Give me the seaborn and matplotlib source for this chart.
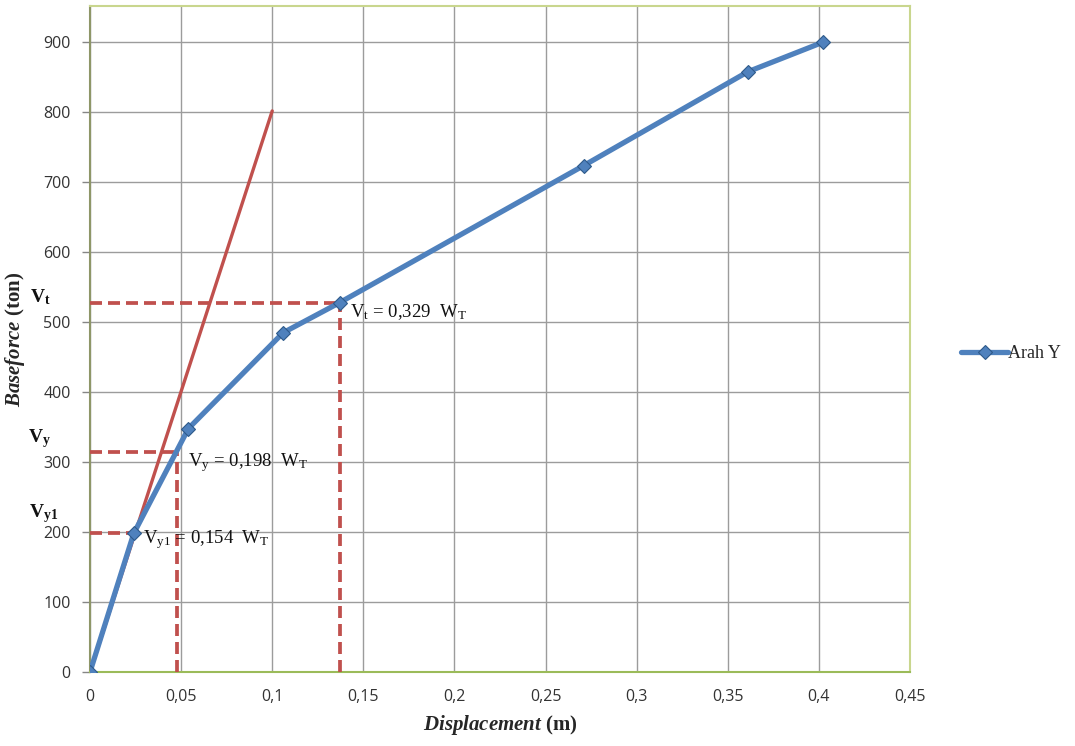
import matplotlib
matplotlib.use("Agg")
import matplotlib.pyplot as plt
import seaborn as sns
import pandas as pd

# ---- data ----
disp = [0.0, 0.024, 0.054, 0.106, 0.137, 0.271, 0.361, 0.402]
base = [0, 198, 348, 485, 528, 724, 858, 900]
series_name = "Arah Y"

elastic_x = [0.0, 0.1]
elastic_y = [0, 802]

vt_point = (0.137, 528)
vy_point = (0.048, 314)
vy1_point = (0.024, 198)

x_ticks = [0, 0.05, 0.1, 0.15, 0.2, 0.25, 0.3, 0.35, 0.4, 0.45]
x_ticklabels = ["0", "0,05", "0,1", "0,15", "0,2", "0,25", "0,3", "0,35", "0,4", "0,45"]
y_ticks = [0, 100, 200, 300, 400, 500, 600, 700, 800, 900]

sns.set_theme(style="white")
plt.rcParams["font.family"] = ["Open Sans", "DejaVu Sans"]
plt.rcParams["mathtext.fontset"] = "custom"
plt.rcParams["mathtext.rm"] = "Liberation Serif"
plt.rcParams["mathtext.it"] = "Liberation Serif:italic"
plt.rcParams["mathtext.bf"] = "Liberation Serif:bold"
plt.rcParams["mathtext.bfit"] = "Liberation Serif:italic:bold"

fig = plt.figure(figsize=(10.75, 7.46), dpi=100)
ax = fig.add_axes([90 / 1075, 74 / 746, 820 / 1075, 666 / 746])

df = pd.DataFrame({"disp": disp, "base": base, "series": series_name})
el = pd.DataFrame({"x": elastic_x, "y": elastic_y})

red = "#C0504D"
blue = "#4F81BD"
serif = "Liberation Serif"

# dashed guide lines
dash = dict(color=red, lw=2.7, ls=(0, (3.2, 1.6)), zorder=3)
ax.plot([0, vt_point[0]], [vt_point[1], vt_point[1]], **dash)
ax.plot([vt_point[0], vt_point[0]], [0, vt_point[1]], **dash)
ax.plot([0, vy_point[0]], [vy_point[1], vy_point[1]], **dash)
ax.plot([vy_point[0], vy_point[0]], [0, vy_point[1]], **dash)
ax.plot([0, vy1_point[0]], [vy1_point[1], vy1_point[1]], **dash)

sns.lineplot(data=el, x="x", y="y", ax=ax, color=red, lw=2.4, zorder=4,
             legend=False)
sns.lineplot(data=df, x="disp", y="base", hue="series", ax=ax,
             palette=[blue], lw=3.8, marker="D", markersize=7,
             markeredgecolor="#2E5A8A", markeredgewidth=0.8, zorder=5,
             sort=False)

ax.set_xlim(0, 0.45)
ax.set_ylim(0, 952)
ax.set_xticks(x_ticks)
ax.set_xticklabels(x_ticklabels)
ax.set_yticks(y_ticks)
ax.tick_params(axis="both", labelsize=11.5, colors="#333333")
ax.tick_params(axis="y", length=6, width=1, color="#868686", direction="out", left=True, pad=8)
ax.tick_params(axis="x", length=0, pad=12)
ax.grid(True, color="#9C9C9C", lw=1)
ax.set_axisbelow(True)

for s in ["top", "right"]:
    ax.spines[s].set_color("#C9D68E")
    ax.spines[s].set_linewidth(1.5)
ax.spines["left"].set_color("#8E9668")
ax.spines["left"].set_linewidth(1.5)
ax.spines["bottom"].set_color("#9BBB59")
ax.spines["bottom"].set_linewidth(1.5)

ax.set_xlabel(r"$\mathbfit{Displacement}$ (m)", fontsize=15, family=serif,
              fontweight="bold", labelpad=6)
ax.set_ylabel(r"$\mathbfit{Baseforce}$ (ton)", fontsize=15, family=serif,
              fontweight="bold", labelpad=12)

# annotations
ann = dict(fontsize=13.5, family=serif, ha="left", va="center", color="#111111")
ax.text(0.1427, 515, r"V$_\mathregular{t}$ = 0,329  W$_\mathregular{T}$", **ann)
ax.text(0.0538, 300, r"V$_\mathregular{y}$ = 0,198  W$_\mathregular{T}$", **ann)
ax.text(0.029, 189, r"V$_\mathregular{y1}$ = 0,154  W$_\mathregular{T}$", **ann)

side = dict(fontsize=14, family=serif, fontweight="bold", ha="center",
            va="center", color="#111111", clip_on=False)
ax.text(-0.0275, 536, r"V$_\mathregular{t}$", **side)
ax.text(-0.0275, 334, r"V$_\mathregular{y}$", **side)
ax.text(-0.0255, 226, r"V$_\mathregular{y1}$", **side)

leg = ax.legend(loc="center left", bbox_to_anchor=(945 / 1075, 392 / 746),
                bbox_transform=fig.transFigure, frameon=False,
                prop={"family": serif, "size": 13}, handlelength=2.6,
                handletextpad=0.0)
for t in leg.get_texts():
    t.set_text(series_name)

fig.savefig("out.png", dpi=100, facecolor="white")
